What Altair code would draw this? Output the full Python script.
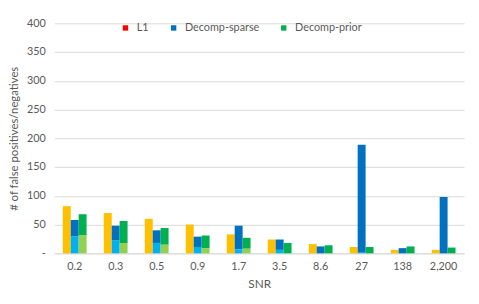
import altair as alt
import pandas as pd

snr = ["0.2", "0.3", "0.5", "0.9", "1.7", "3.5", "8.6", "27", "138", "2,200"]

# L1: red part (legend) is zero, yellow part carries the counts
l1_red = [0, 0, 0, 0, 0, 0, 0, 0, 0, 0]
l1_yellow = [82, 70, 60, 50, 33, 24, 16, 11, 6, 6]
# Decomp-sparse: dark blue on top of light blue
sparse_dark = [29, 25, 22, 18, 41, 18, 12, 188, 9, 98]
sparse_light = [29, 23, 18, 11, 7, 6, 0, 1, 0, 0]
# Decomp-prior: green on top of light green
prior_dark = [37, 38, 29, 22, 19, 18, 14, 11, 12, 10]
prior_light = [31, 18, 15, 9, 8, 0, 0, 0, 0, 0]

series = ["L1", "Decomp-sparse", "Decomp-prior"]
keys = ["L1", "L1 b", "Decomp-sparse", "Decomp-sparse b", "Decomp-prior", "Decomp-prior b"]
colors = ["#FF0000", "#FFC000", "#0070C0", "#00B0F0", "#00B050", "#92D050"]

rows = []
parts = [
    ("L1", "L1", 1, l1_red),
    ("L1", "L1 b", 0, l1_yellow),
    ("Decomp-sparse", "Decomp-sparse", 1, sparse_dark),
    ("Decomp-sparse", "Decomp-sparse b", 0, sparse_light),
    ("Decomp-prior", "Decomp-prior", 1, prior_dark),
    ("Decomp-prior", "Decomp-prior b", 0, prior_light),
]
for s, k, o, vals in parts:
    for x, v in zip(snr, vals):
        rows.append({"snr": x, "series": s, "key": k, "ord": o, "value": v})
df = pd.DataFrame(rows)

FONT = "Lato"
GREY = "#595959"

chart = (
    alt.Chart(df)
    .transform_stack(
        stack="value",
        groupby=["snr", "series"],
        as_=["y0", "y1"],
        sort=[alt.SortField("ord", order="ascending")],
    )
    .mark_bar()
    .encode(
        x=alt.X(
            "snr:N",
            sort=snr,
            title="SNR",
            scale=alt.Scale(paddingInner=0.42, paddingOuter=0.21),
            axis=alt.Axis(
                labelAngle=0,
                ticks=False,
                domainColor="#D9D9D9",
                labelPadding=7,
                titlePadding=8,
                labelFontSize=11,
                titleFontSize=12,
            ),
        ),
        xOffset=alt.XOffset("series:N", sort=series, scale=alt.Scale(paddingInner=0)),
        y=alt.Y(
            "y0:Q",
            title="# of false positives/negatives",
            scale=alt.Scale(domain=[0, 400]),
            axis=alt.Axis(
                values=[0, 50, 100, 150, 200, 250, 300, 350, 400],
                labelExpr="datum.value == 0 ? '-' : datum.label",
                ticks=False,
                domain=False,
                gridColor="#D9D9D9",
                labelPadding=9,
                titlePadding=7,
                labelFontSize=11,
                titleFontSize=11.5,
            ),
        ),
        y2="y1:Q",
        color=alt.Color(
            "key:N",
            scale=alt.Scale(domain=keys, range=colors),
            legend=alt.Legend(
                values=series,
                title=None,
                orient="none",
                legendX=67,
                legendY=-1,
                direction="horizontal",
                symbolType="square",
                symbolSize=30,
                symbolStrokeWidth=0,
                labelFontSize=11,
                labelColor=GREY,
                labelFont=FONT,
                columnPadding=19,
                padding=0,
                labelOffset=6,
            ),
        ),
    )
    .properties(
        width=417,
        height=234,
        autosize=alt.AutoSizeParams(type="none"),
        padding={"left": 47, "top": 13, "right": 7, "bottom": 49},
    )
    .configure_view(stroke=None)
    .configure_axis(
        labelFont=FONT,
        titleFont=FONT,
        labelColor=GREY,
        titleColor=GREY,
        titleFontWeight="normal",
    )
)

chart.save("out.html", embed_options={"renderer": "svg", "actions": False})
